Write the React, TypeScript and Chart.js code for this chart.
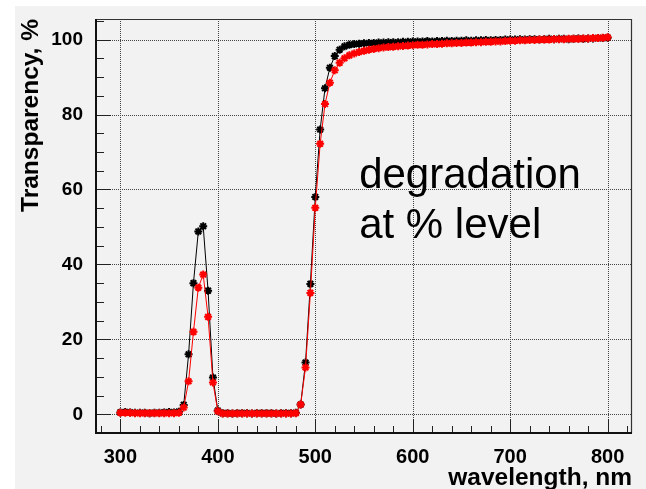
import React, { useEffect, useRef } from "react";
import { Chart, registerables } from "chart.js";

Chart.register(...registerables);

const W = 646;
const H = 489;

// wavelength, nm (5 nm steps)
const wavelengths = [
  300, 305, 310, 315, 320, 325, 330, 335, 340, 345, 350, 355, 360,
  365, 370, 375, 380, 385, 390, 395, 400,
  405, 410, 415, 420, 425, 430, 435, 440, 445, 450, 455, 460, 465, 470, 475, 480,
  485, 490, 495, 500, 505, 510, 515, 520, 525, 530,
  535, 540, 545, 550, 555, 560, 565, 570, 575, 580, 585, 590, 595, 600,
  605, 610, 615, 620, 625, 630, 635, 640, 645, 650, 655, 660, 665, 670, 675, 680, 685, 690, 695, 700,
  705, 710, 715, 720, 725, 730, 735, 740, 745, 750, 755, 760, 765, 770, 775, 780, 785, 790, 795, 800,
];

// black series (before)
const blackValues = [
  0.5, 0.6, 0.5, 0.4, 0.4, 0.4, 0.3, 0.4, 0.4, 0.5, 0.6, 0.5, 0.7,
  2.5, 16.0, 35.0, 48.8, 50.2, 33.0, 9.8, 1.0,
  0.3, 0.3, 0.2, 0.3, 0.3, 0.3, 0.2, 0.3, 0.3, 0.3, 0.3, 0.2, 0.3, 0.3, 0.3, 0.4,
  2.6, 13.8, 34.8, 58.0, 76.0, 87.0, 92.5, 95.6, 97.3, 98.2,
  98.6, 98.8, 98.9, 99.0, 99.1, 99.1, 99.2, 99.2, 99.3, 99.3, 99.3, 99.4, 99.4, 99.5,
  99.5, 99.5, 99.6, 99.5, 99.6, 99.6, 99.7, 99.6, 99.7, 99.7, 99.8, 99.7, 99.8, 99.8, 99.9, 99.8, 99.9, 99.9, 100.0, 100.0,
  100.0, 100.1, 100.0, 100.1, 100.1, 100.0, 100.1, 100.2, 100.1, 100.2, 100.2, 100.1, 100.2, 100.3, 100.2, 100.3, 100.3, 100.4, 100.4, 100.5,
];

// red series (after)
const redValues = [
  0.4, 0.4, 0.4, 0.3, 0.3, 0.3, 0.3, 0.3, 0.3, 0.3, 0.3, 0.3, 0.4,
  1.8, 8.8, 22.0, 33.8, 37.3, 26.0, 8.5, 0.8,
  0.2, 0.2, 0.2, 0.2, 0.2, 0.2, 0.2, 0.2, 0.2, 0.2, 0.2, 0.2, 0.2, 0.2, 0.2, 0.3,
  2.6, 12.5, 32.4, 55.1, 72.2, 82.8, 88.5, 91.8, 93.8, 95.0,
  95.8, 96.3, 96.7, 97.0, 97.3, 97.5, 97.7, 97.9, 98.0, 98.1, 98.2, 98.3, 98.4, 98.5,
  98.6, 98.6, 98.7, 98.8, 98.8, 98.9, 99.0, 99.0, 99.1, 99.1, 99.2, 99.2, 99.3, 99.3, 99.4, 99.4, 99.5, 99.5, 99.6, 99.7,
  99.7, 99.8, 99.8, 99.9, 99.9, 100.0, 100.0, 100.0, 100.1, 100.1, 100.1, 100.2, 100.2, 100.2, 100.3, 100.3, 100.4, 100.4, 100.5, 100.6,
];

const xMajorTicks = [300, 400, 500, 600, 700, 800];
const xMinorTicks = [280, 320, 340, 360, 380, 420, 440, 460, 480, 520, 540, 560, 580, 620, 640, 660, 680, 720, 740, 760, 780, 820];
const yMajorTicks = [0, 20, 40, 60, 80, 100];
const yMinorTicks = [-5, 5, 10, 15, 25, 30, 35, 45, 50, 55, 65, 70, 75, 85, 90, 95, 105];

const xTitle = "wavelength, nm";
const yTitle = "Transparency, %";
const noteLines = ["degradation", "at % level"];
const noteAnchor = { x: 545, y: 60.5 };

const FONT = '"Liberation Sans", Arial, Helvetica, sans-serif';

const decorPlugin = {
  id: "decor",
  beforeDraw(chart: any) {
    const ctx = chart.ctx;
    ctx.save();
    ctx.fillStyle = "#ffffff";
    ctx.fillRect(0, 0, W, H);
    ctx.fillStyle = "#f2f2f2";
    ctx.fillRect(15, 6, W - 15, H - 6);
    ctx.restore();
  },
  beforeDatasetsDraw(chart: any) {
    const ctx = chart.ctx;
    const { left, right, top, bottom } = chart.chartArea;
    const xs = chart.scales.x;
    const ys = chart.scales.y;
    ctx.save();
    ctx.strokeStyle = "#444";
    ctx.lineWidth = 1;
    ctx.setLineDash([1, 1]);
    for (const v of xMajorTicks) {
      const px = Math.round(xs.getPixelForValue(v)) + 0.5;
      ctx.beginPath();
      ctx.moveTo(px, top);
      ctx.lineTo(px, bottom);
      ctx.stroke();
    }
    for (const v of yMajorTicks) {
      const py = Math.round(ys.getPixelForValue(v)) + 0.5;
      ctx.beginPath();
      ctx.moveTo(left, py);
      ctx.lineTo(right, py);
      ctx.stroke();
    }
    ctx.setLineDash([]);
    // annotation
    ctx.fillStyle = "#000";
    ctx.font = `42px ${FONT}`;
    ctx.textAlign = "left";
    ctx.textBaseline = "alphabetic";
    const ax = xs.getPixelForValue(noteAnchor.x);
    const ay = ys.getPixelForValue(noteAnchor.y);
    noteLines.forEach((t, i) => ctx.fillText(t, ax, ay + i * 50.5));
    ctx.restore();
  },
  afterDatasetsDraw(chart: any) {
    const ctx = chart.ctx;
    const { left, right, top, bottom } = chart.chartArea;
    const xs = chart.scales.x;
    const ys = chart.scales.y;
    ctx.save();
    ctx.strokeStyle = "#222";
    ctx.lineWidth = 1;
    for (const v of xMajorTicks) {
      const px = Math.round(xs.getPixelForValue(v)) + 0.5;
      ctx.beginPath();
      ctx.moveTo(px, bottom);
      ctx.lineTo(px, bottom - 14);
      ctx.stroke();
    }
    for (const v of xMinorTicks) {
      const px = Math.round(xs.getPixelForValue(v)) + 0.5;
      ctx.beginPath();
      ctx.moveTo(px, bottom);
      ctx.lineTo(px, bottom - 7);
      ctx.stroke();
    }
    for (const v of yMajorTicks) {
      const py = Math.round(ys.getPixelForValue(v)) + 0.5;
      ctx.beginPath();
      ctx.moveTo(left, py);
      ctx.lineTo(left + 15, py);
      ctx.stroke();
    }
    for (const v of yMinorTicks) {
      const py = Math.round(ys.getPixelForValue(v)) + 0.5;
      ctx.beginPath();
      ctx.moveTo(left, py);
      ctx.lineTo(left + 8, py);
      ctx.stroke();
    }
    // frame
    ctx.lineWidth = 1.2;
    ctx.strokeStyle = "#333";
    ctx.beginPath();
    ctx.moveTo(left, top + 0.5);
    ctx.lineTo(right, top + 0.5);
    ctx.moveTo(right - 0.5, top);
    ctx.lineTo(right - 0.5, bottom);
    ctx.stroke();
    ctx.lineWidth = 2;
    ctx.strokeStyle = "#111";
    ctx.beginPath();
    ctx.moveTo(left, top);
    ctx.lineTo(left, bottom);
    ctx.lineTo(right, bottom);
    ctx.stroke();
    ctx.restore();
  },
};

export default function App() {
  const canvasRef = useRef<HTMLCanvasElement | null>(null);

  useEffect(() => {
    if (!canvasRef.current) return;
    const blackData = wavelengths.map((x, i) => ({ x, y: blackValues[i] }));
    const redData = wavelengths.map((x, i) => ({ x, y: redValues[i] }));
    const chart = new Chart(canvasRef.current, {
      type: "scatter",
      data: {
        datasets: [
          {
            label: "after",
            data: redData,
            showLine: true,
            borderColor: "#ff0000",
            backgroundColor: "#ff0000",
            borderWidth: 1,
            pointStyle: "star",
            pointRadius: 4,
            pointBorderWidth: 2,
            pointBorderColor: "#ff0000",
            order: 0,
          },
          {
            label: "before",
            data: blackData,
            showLine: true,
            borderColor: "#000000",
            backgroundColor: "#000000",
            borderWidth: 1,
            pointStyle: "star",
            pointRadius: 4,
            pointBorderWidth: 2,
            pointBorderColor: "#000000",
            order: 1,
          },
        ],
      },
      options: {
        animation: false,
        responsive: true,
        maintainAspectRatio: false,
        layout: { padding: { left: 0, top: 19, right: 14, bottom: 0 } },
        plugins: { legend: { display: false }, tooltip: { enabled: false } },
        scales: {
          x: {
            type: "linear",
            min: 275,
            max: 825,
            bounds: "data",
            afterBuildTicks: (s: any) => {
              s.ticks = xMajorTicks.map((v) => ({ value: v }));
            },
            afterFit: (s: any) => {
              s.height = 56;
              s.paddingLeft = 0;
              s.paddingRight = 0;
            },
            grid: { display: false, drawTicks: false },
            border: { display: false },
            ticks: {
              padding: 12,
              color: "#000",
              maxRotation: 0,
              autoSkip: false,
              font: { family: FONT, weight: "bold", size: 20 },
            },
            title: {
              display: true,
              text: xTitle,
              align: "end",
              color: "#000",
              padding: 0,
              font: { family: FONT, weight: "bold", size: 24.5, lineHeight: 0.9 },
            },
          },
          y: {
            type: "linear",
            min: -5,
            max: 105.5,
            bounds: "data",
            afterBuildTicks: (s: any) => {
              s.ticks = yMajorTicks.map((v) => ({ value: v }));
            },
            afterFit: (s: any) => {
              s.width = 96;
              s.paddingTop = 0;
              s.paddingBottom = 0;
            },
            grid: { display: false, drawTicks: false },
            border: { display: false },
            ticks: {
              padding: 13,
              color: "#000",
              font: { family: FONT, weight: "bold", size: 19 },
            },
            title: {
              display: true,
              text: yTitle,
              align: "end",
              color: "#000",
              padding: { top: 17, bottom: 0 },
              font: { family: FONT, weight: "bold", size: 24.5, lineHeight: 1.2 },
            },
          },
        },
      },
      plugins: [decorPlugin],
    } as any);
    return () => chart.destroy();
  }, []);

  return (
    <div style={{ position: "fixed", left: 0, top: 0, width: W, height: H }}>
      <canvas ref={canvasRef} />
    </div>
  );
}
